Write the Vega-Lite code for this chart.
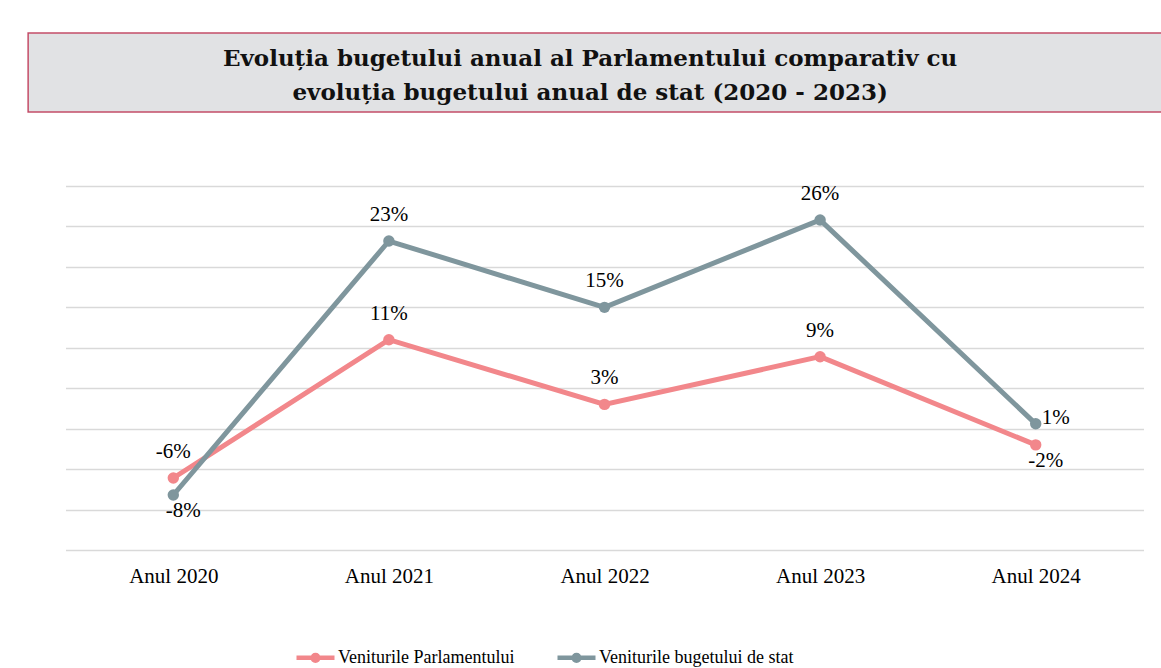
{
  "$schema": "https://vega.github.io/schema/vega-lite/v6.json",
  "padding": {"left": 27, "top": 32, "right": 0, "bottom": 0},
  "background": "white",
  "center": true,
  "spacing": 69,
  "config": {
    "view": {"stroke": null},
    "font": "Liberation Serif",
    "locale": {"number": {"decimal": ".", "thousands": ",", "grouping": [3], "currency": ["$", ""], "minus": "-"}}
  },
  "vconcat": [
    {
      "width": 1152,
      "height": 79,
      "view": {"fill": "#e1e2e4", "stroke": "#c44d68", "strokeWidth": 1.5},
      "data": {"values": [
        {"line": 1, "text": "Evoluția bugetului anual al Parlamentului comparativ cu"},
        {"line": 2, "text": "evoluția bugetului anual de stat (2020 - 2023)"}
      ]},
      "mark": {"type": "text", "font": "DejaVu Serif", "fontWeight": "bold", "fontSize": 23, "baseline": "alphabetic", "dx": -14, "color": "#111111"},
      "encoding": {
        "y": {"field": "line", "type": "ordinal", "scale": {"range": [33, 67], "padding": 0}, "axis": null},
        "text": {"field": "text"}
      }
    },
    {
      "width": 1078,
      "height": 364,
      "data": {"values": [
        {"year": "Anul 2020", "series": "Veniturile Parlamentului", "value": -0.061},
        {"year": "Anul 2021", "series": "Veniturile Parlamentului", "value": 0.110},
        {"year": "Anul 2022", "series": "Veniturile Parlamentului", "value": 0.030},
        {"year": "Anul 2023", "series": "Veniturile Parlamentului", "value": 0.089},
        {"year": "Anul 2024", "series": "Veniturile Parlamentului", "value": -0.020},
        {"year": "Anul 2020", "series": "Veniturile bugetului de stat", "value": -0.082},
        {"year": "Anul 2021", "series": "Veniturile bugetului de stat", "value": 0.232},
        {"year": "Anul 2022", "series": "Veniturile bugetului de stat", "value": 0.150},
        {"year": "Anul 2023", "series": "Veniturile bugetului de stat", "value": 0.258},
        {"year": "Anul 2024", "series": "Veniturile bugetului de stat", "value": 0.006}
      ]},
      "encoding": {
        "x": {
          "field": "year", "type": "nominal", "sort": null,
          "scale": {"padding": 0.5},
          "axis": {"title": null, "ticks": false, "domain": false, "grid": false, "labelAngle": 0, "labelFont": "Liberation Serif", "labelFontSize": 21, "labelColor": "#000000", "labelPadding": 15}
        },
        "y": {
          "field": "value", "type": "quantitative",
          "scale": {"domain": [-0.15, 0.3], "nice": false, "zero": false},
          "axis": {"title": null, "values": [-0.15, -0.1, -0.05, 0, 0.05, 0.1, 0.15, 0.2, 0.25, 0.3], "grid": true, "gridColor": "#d9d9d9", "gridWidth": 1.5, "labels": false, "ticks": false, "domain": false}
        }
      },
      "layer": [
        {
          "mark": {"type": "line", "strokeWidth": 5, "point": {"filled": true, "size": 130}},
          "encoding": {
            "color": {
              "field": "series", "type": "nominal",
              "scale": {"domain": ["Veniturile Parlamentului", "Veniturile bugetului de stat"], "range": ["#f2878b", "#7f969d"]},
              "legend": {
                "orient": "none", "legendX": 266, "legendY": 603, "title": null, "direction": "horizontal",
                "labelFont": "Liberation Serif", "labelFontSize": 18, "labelColor": "#000000", "labelLimit": 500,
                "symbolType": "M-1,0L1,0M0.15,0A0.15,0.15,0,1,1,-0.15,0A0.15,0.15,0,1,1,0.15,0",
                "symbolSize": 1444, "symbolStrokeWidth": 4.5, "labelOffset": 1, "columnPadding": 33,
                "encode": {"symbols": {"update": {"fill": {"scale": "color", "field": "value"}, "stroke": {"scale": "color", "field": "value"}}}}
              }
            }
          }
        },
        {
          "transform": [{"filter": "!((datum.year == 'Anul 2020' && datum.series == 'Veniturile bugetului de stat') || datum.year == 'Anul 2024')"}],
          "mark": {"type": "text", "fontSize": 21, "font": "Liberation Serif", "color": "#000000", "dy": -26},
          "encoding": {"text": {"field": "value", "type": "quantitative", "format": ".0%"}}
        },
        {
          "transform": [{"filter": "(datum.year == 'Anul 2020' && datum.series == 'Veniturile bugetului de stat') || (datum.year == 'Anul 2024' && datum.series == 'Veniturile Parlamentului')"}],
          "mark": {"type": "text", "fontSize": 21, "font": "Liberation Serif", "color": "#000000", "dy": 16, "dx": 10},
          "encoding": {"text": {"field": "value", "type": "quantitative", "format": ".0%"}}
        },
        {
          "transform": [{"filter": "datum.year == 'Anul 2024' && datum.series == 'Veniturile bugetului de stat'"}],
          "mark": {"type": "text", "fontSize": 21, "font": "Liberation Serif", "color": "#000000", "align": "left", "dx": 6, "dy": -6},
          "encoding": {"text": {"field": "value", "type": "quantitative", "format": ".0%"}}
        }
      ]
    }
  ]
}
